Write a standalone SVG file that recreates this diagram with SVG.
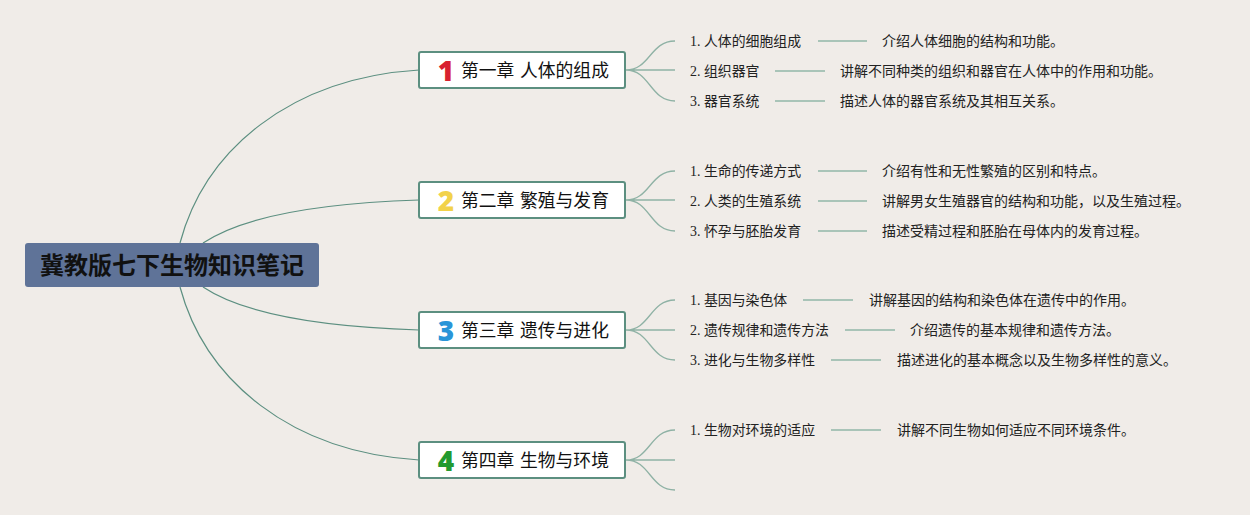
<svg xmlns="http://www.w3.org/2000/svg" width="1250" height="515" viewBox="0 0 1250 515">
<style>
.root{fill:#5f7398;}
.rootText{font-family:"Noto Sans CJK SC",sans-serif;font-weight:700;font-size:24px;fill:#111;}
.ch{fill:#ffffff;stroke:#5c8f80;stroke-width:2;}
.chText{font-family:"Noto Sans CJK SC",sans-serif;font-size:17.8px;fill:#111;}
.num{font-family:"Open Sans","DejaVu Sans",sans-serif;font-weight:800;font-size:28px;}
.sub{font-family:"Liberation Serif","Noto Sans CJK SC",serif;font-size:13.9px;fill:#222;}
.desc{font-family:"Noto Sans CJK SC",sans-serif;font-size:14px;fill:#222;}
.main{fill:none;stroke:#5c8f80;stroke-width:1.2;}
.br{fill:none;stroke:#8fb2a5;stroke-width:1.3;}
.dash{stroke:#a9c4b8;stroke-width:2;}
</style>
<rect width="1250" height="515" fill="#f0ece8"/>
<g id="connectors">
<path class="main" d="M180,243 C205,150 290,78 419,70"/>
<path class="main" d="M203,243 Q260,205 419,200"/>
<path class="main" d="M203,287 Q260,325 419,330"/>
<path class="main" d="M180,287 C205,380 290,452 419,460"/>
<path class="br" d="M626,70 C650,70 650,41 675,41 M626,70 L675,70 M626,70 C650,70 650,101 675,101"/>
<path class="br" d="M626,200 C650,200 650,171 675,171 M626,200 L675,200 M626,200 C650,200 650,231 675,231"/>
<path class="br" d="M626,330 C650,330 650,300 675,300 M626,330 L675,330 M626,330 C650,330 650,360 675,360"/>
<path class="br" d="M626,460 C650,460 650,430 675,430 M626,460 L675,460 M626,460 C650,460 650,490 675,490"/>
<line class="dash" x1="818" y1="41" x2="867" y2="41"/>
<line class="dash" x1="775" y1="71" x2="825" y2="71"/>
<line class="dash" x1="775" y1="101" x2="825" y2="101"/>
<line class="dash" x1="818" y1="171" x2="867" y2="171"/>
<line class="dash" x1="818" y1="201" x2="867" y2="201"/>
<line class="dash" x1="818" y1="231" x2="867" y2="231"/>
<line class="dash" x1="803" y1="300" x2="853" y2="300"/>
<line class="dash" x1="845" y1="330" x2="895" y2="330"/>
<line class="dash" x1="831" y1="360" x2="881" y2="360"/>
<line class="dash" x1="831" y1="430" x2="881" y2="430"/>
</g>
<g id="root">
<rect class="root" x="25" y="243" width="294" height="44" rx="3"/>
<text class="rootText" x="172" y="273.5" text-anchor="middle">冀教版七下生物知识笔记</text>
</g>
<g id="ch1">
<rect class="ch" x="419" y="52" width="206" height="36" rx="2"/>
<text class="num" x="446" y="80.5" text-anchor="middle" fill="#d8212f">1</text>
<text class="chText" x="461" y="76.5">第一章 <tspan x="520">人体的组成</tspan></text>
</g>
<g id="ch2">
<rect class="ch" x="419" y="182" width="206" height="36" rx="2"/>
<text class="num" x="446" y="210.5" text-anchor="middle" fill="#f2d24a">2</text>
<text class="chText" x="461" y="206.5">第二章 <tspan x="520">繁殖与发育</tspan></text>
</g>
<g id="ch3">
<rect class="ch" x="419" y="312" width="206" height="36" rx="2"/>
<text class="num" x="446" y="340.5" text-anchor="middle" fill="#2a95d8">3</text>
<text class="chText" x="461" y="336.5">第三章 <tspan x="520">遗传与进化</tspan></text>
</g>
<g id="ch4">
<rect class="ch" x="419" y="442" width="206" height="36" rx="2"/>
<text class="num" x="446" y="470.5" text-anchor="middle" fill="#239a2f">4</text>
<text class="chText" x="461" y="466.5">第四章 <tspan x="520">生物与环境</tspan></text>
</g>
<g id="s1-1"><text class="sub" x="690" y="46">1. 人体的细胞组成</text><text class="desc" x="882" y="46">介绍人体细胞的结构和功能。</text></g>
<g id="s1-2"><text class="sub" x="690" y="76">2. 组织器官</text><text class="desc" x="840" y="76">讲解不同种类的组织和器官在人体中的作用和功能。</text></g>
<g id="s1-3"><text class="sub" x="690" y="106">3. 器官系统</text><text class="desc" x="840" y="106">描述人体的器官系统及其相互关系。</text></g>
<g id="s2-1"><text class="sub" x="690" y="176">1. 生命的传递方式</text><text class="desc" x="882" y="176">介绍有性和无性繁殖的区别和特点。</text></g>
<g id="s2-2"><text class="sub" x="690" y="206">2. 人类的生殖系统</text><text class="desc" x="882" y="206">讲解男女生殖器官的结构和功能，以及生殖过程。</text></g>
<g id="s2-3"><text class="sub" x="690" y="236">3. 怀孕与胚胎发育</text><text class="desc" x="882" y="236">描述受精过程和胚胎在母体内的发育过程。</text></g>
<g id="s3-1"><text class="sub" x="690" y="305">1. 基因与染色体</text><text class="desc" x="869" y="305">讲解基因的结构和染色体在遗传中的作用。</text></g>
<g id="s3-2"><text class="sub" x="690" y="335">2. 遗传规律和遗传方法</text><text class="desc" x="910" y="335">介绍遗传的基本规律和遗传方法。</text></g>
<g id="s3-3"><text class="sub" x="690" y="365">3. 进化与生物多样性</text><text class="desc" x="897" y="365">描述进化的基本概念以及生物多样性的意义。</text></g>
<g id="s4-1"><text class="sub" x="690" y="435">1. 生物对环境的适应</text><text class="desc" x="897" y="435">讲解不同生物如何适应不同环境条件。</text></g>
</svg>
